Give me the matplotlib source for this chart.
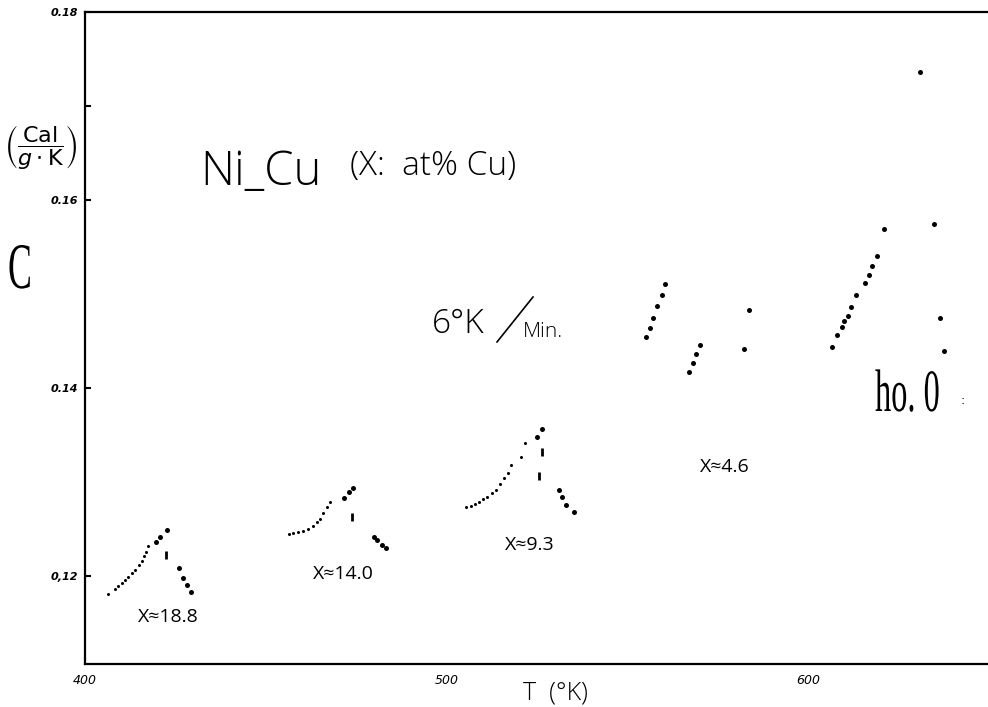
import matplotlib
matplotlib.use("Agg")
import matplotlib.pyplot as plt
from matplotlib.lines import Line2D
from matplotlib.patches import PathPatch
from matplotlib.textpath import TextPath
from matplotlib.font_manager import FontProperties
from matplotlib.transforms import Affine2D

# Ni-Cu specific heat (T in K, C in cal/g.K)
# x ~ 18.8
t1_small = [406.4, 408.3, 409.2, 410.1, 411.1, 412.0, 412.9, 413.8, 415.0, 415.7, 416.3, 416.9, 417.5]
c1_small = [0.1181, 0.1186, 0.1189, 0.1193, 0.1196, 0.1199, 0.1203, 0.1206, 0.1212, 0.1216, 0.1221, 0.1226, 0.1232]
t1_big = [419.6, 420.7, 422.6, 426.0, 427.2, 428.1, 429.2]
c1_big = [0.1236, 0.1241, 0.1249, 0.1208, 0.1198, 0.1190, 0.1183]
t1_dash = [422.4]
c1_dash = [0.1222]
# x ~ 14.0
t2_small = [456.4, 457.6, 459.0, 460.4, 461.8, 463.0, 464.1, 465.0, 465.9, 466.9, 467.8]
c2_small = [0.1245, 0.1246, 0.1247, 0.1248, 0.1250, 0.1253, 0.1257, 0.1261, 0.1267, 0.1273, 0.1279]
t2_big = [471.6, 473.0, 474.0, 479.9, 480.9, 482.1, 483.3]
c2_big = [0.1283, 0.1289, 0.1294, 0.1242, 0.1238, 0.1233, 0.1230]
t2_dash = [473.8]
c2_dash = [0.1263]
# x ~ 9.3
t3_small = [505.4, 506.7, 507.9, 509.1, 510.2, 511.3, 512.5, 513.7, 514.8, 515.9, 516.9, 517.8, 520.5, 521.7]
c3_small = [0.1273, 0.1274, 0.1277, 0.1279, 0.1282, 0.1284, 0.1288, 0.1292, 0.1298, 0.1304, 0.1310, 0.1318, 0.1327, 0.1341]
t3_big = [525.1, 526.5, 531.0, 531.9, 533.1, 535.3]
c3_big = [0.1348, 0.1356, 0.1292, 0.1284, 0.1276, 0.1268]
t3_dash = [526.4, 525.6]
c3_dash = [0.1332, 0.1306]
# x ~ 4.6
t4 = [555.1, 556.2, 557.0, 558.3, 559.5, 560.4, 567.0, 568.2, 568.9, 570.1, 583.7, 582.3]
c4 = [0.1454, 0.1464, 0.1475, 0.1487, 0.1499, 0.1511, 0.1417, 0.1427, 0.1436, 0.1446, 0.1483, 0.1441]
# x ~ 0
t5 = [606.6, 608.0, 609.3, 610.0, 611.0, 611.8, 613.2, 615.8, 616.8, 617.6, 619.0, 621.1, 631.1, 634.9, 636.5, 637.7]
c5 = [0.1444, 0.1456, 0.1465, 0.1471, 0.1477, 0.1486, 0.1499, 0.1512, 0.1520, 0.1530, 0.1540, 0.1569, 0.1736, 0.1575, 0.1475, 0.1439]

curve_labels = ["X≈18.8", "X≈14.0", "X≈9.3", "X≈4.6"]
label_t = [423.0, 471.6, 523.1, 577.0]
label_c = [0.11564, 0.12021, 0.12330, 0.13160]

yticks = [0.12, 0.14, 0.16, 0.17, 0.18]
ytick_labels = ["0,12", "0.14", "0.16", "", "0.18"]
xticks = [400, 500, 600]

hand = ["Open Sans", "DejaVu Sans"]

W, H = 988, 707
fig = plt.figure(figsize=(W / 100, H / 100), dpi=100)
ax = fig.add_axes([85 / W, 43 / H, 903 / W, 652 / H])

small = dict(color="k", ls="none", marker="o", ms=2.2, mew=0)
big = dict(color="k", ls="none", marker="o", ms=3.6, mew=0)
dash = dict(color="k", ls="none", marker="|", ms=6, mew=2)

ax.plot(t1_small, c1_small, **small)
ax.plot(t1_big, c1_big, **big)
ax.plot(t1_dash, c1_dash, **dash)
ax.plot(t2_small, c2_small, **small)
ax.plot(t2_big, c2_big, **big)
ax.plot(t2_dash, c2_dash, **dash)
ax.plot(t3_small, c3_small, **small)
ax.plot(t3_big, c3_big, **big)
ax.plot(t3_dash, c3_dash, **dash)
ax.plot(t4, c4, **big)
ax.plot(t5, c5, **big)

for s, tx, cy in zip(curve_labels, label_t, label_c):
    ax.text(tx, cy, s, ha="center", va="center", fontsize=14, family=hand)

ax.set_xlim(400, 649.8)
ax.set_ylim(0.11064, 0.18)
ax.set_yticks(yticks)
ax.set_yticklabels(ytick_labels, fontsize=8, style="italic", fontweight="bold")
ax.set_xticks(xticks)
ax.set_xticklabels([str(v) for v in xticks], fontsize=9, style="italic")
ax.tick_params(axis="y", direction="in", length=4, width=1.5, pad=5)
ax.tick_params(axis="x", length=0, pad=7)
for side in ["left", "bottom", "top"]:
    ax.spines[side].set_linewidth(1.6)
ax.spines["right"].set_visible(False)

# hand written annotations
fig.text(200 / W, 1 - 185 / H, "Ni_Cu", fontsize=34, family=hand, fontweight="light", va="baseline")
fig.text(350 / W, 1 - 166 / H, "(X:  at% Cu)", fontsize=24, family=hand, fontweight="light", va="center")
fig.text(432 / W, 1 - 333 / H, "6°K", fontsize=24, family=hand, fontweight="light", va="baseline")
fig.add_artist(Line2D([497 / W, 533 / W], [1 - 342 / H, 1 - 297 / H], transform=fig.transFigure, color="k", lw=1.2))
fig.text(523 / W, 1 - 337 / H, "Min.", fontsize=15, family=hand, fontweight="light", va="baseline")
fig.text(555 / W, 1 - 693 / H, "T  (°K)", fontsize=18, family=hand, fontweight="light", ha="center", va="center")
fig.text(41 / W, 1 - 147 / H, r"$\left(\dfrac{\mathrm{Cal}}{g\cdot\mathrm{K}}\right)$", fontsize=16, ha="center", va="center")
fig.text(963 / W, 1 - 400 / H, ":", fontsize=9, ha="center", va="center")


def narrow_text(s, x, y_base, em, sx):
    # condensed serif letters drawn as paths, in pixel units
    path = TextPath((0, 0), s, size=em, prop=FontProperties(family="Liberation Serif"))
    fig.add_artist(PathPatch(path, transform=Affine2D().scale(sx, 1).translate(x, H - y_base), color="k", lw=0))


narrow_text("C", 8, 288, 65, 0.55)
narrow_text("ho. 0", 875, 411, 60, 0.54)

fig.savefig("out.png", dpi=100)
